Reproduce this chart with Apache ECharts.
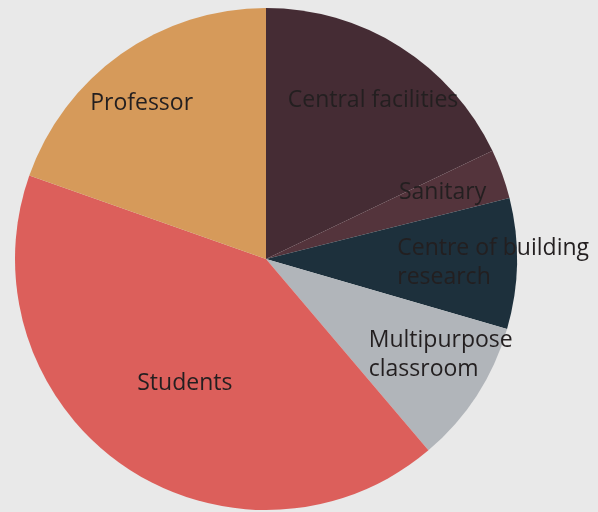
<!DOCTYPE html>
<html>
<head>
<meta charset="utf-8">
<script src="https://cdn.jsdelivr.net/npm/echarts@6/dist/echarts.min.js"></script>
<style>
  html, body { margin: 0; padding: 0; background: #e9e9e9; }
  #chart { width: 598px; height: 512px; }
</style>
</head>
<body>
<div id="chart"></div>
<script>
// slice data, clockwise from 12 o'clock
const categories = ['Central facilities', 'Sanitary', 'Centre of building\nresearch', 'Multipurpose\nclassroom', 'Students', 'Professor']
const shares = [17.9, 3.2, 8.4, 9.3, 41.6, 19.6]
const colors = ['#452c34', '#54343c', '#1d303c', '#b1b5ba', '#dc5f5b', '#d69a5a']

// label spot: fraction of the radius, and a small turn (degrees) off the slice middle
const labelRadius = [0.77, 0.755, 0.905, 0.79, 0.585, 0.8]
const labelTurn = [1.4, -1.5, -0.6, -4.7, -1, -3]

const cx = 266
const cy = 259
const R = 251

const total = shares.reduce((a, b) => a + b, 0)
const midAngles = []
let acc = 0
shares.forEach(function(v) {
  midAngles.push((acc + v / 2) / total * 360)
  acc += v
})

const chart = echarts.init(document.getElementById('chart'), null, { renderer: 'canvas' })
chart.setOption({
  backgroundColor: '#e9e9e9',
  animation: false,
  series: [{
    type: 'pie',
    center: [cx, cy],
    radius: [0, R],
    startAngle: 90,
    clockwise: true,
    avoidLabelOverlap: false,
    itemStyle: { borderWidth: 0 },
    label: {
      show: true,
      position: 'inside',
      formatter: '{b}',
      color: '#231f20',
      fontFamily: 'Open Sans',
      fontSize: 23,
      lineHeight: 29
    },
    labelLine: { show: false },
    emphasis: { disabled: true },
    // put the labels further out along the slice middle
    labelLayout: function(params) {
      const i = params.dataIndex
      const a = (midAngles[i] + labelTurn[i]) * Math.PI / 180
      const d = labelRadius[i] * R
      const x = cx + d * Math.sin(a)
      const y = cy - d * Math.cos(a)
      return {
        x: x - params.labelRect.width / 2,
        y: y + 2,
        align: 'left',
        verticalAlign: 'middle'
      }
    },
    data: categories.map(function(name, i) {
      return { name: name, value: shares[i], itemStyle: { color: colors[i] } }
    })
  }]
})
</script>
</body>
</html>
